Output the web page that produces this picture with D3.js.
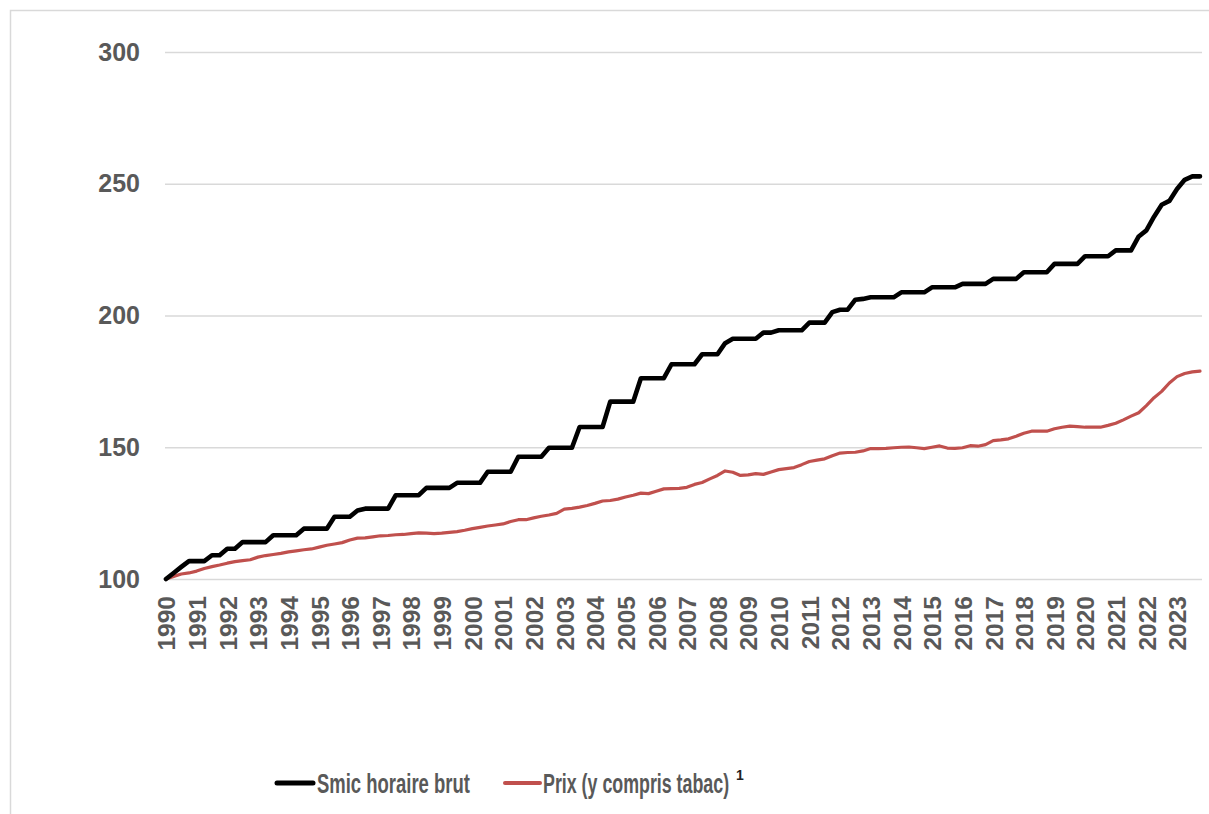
<!DOCTYPE html>
<html>
<head>
<meta charset="utf-8">
<script src="https://cdn.jsdelivr.net/npm/d3@7"></script>
<style>
  html, body { margin: 0; padding: 0; background: #ffffff; }
  svg { display: block; font-family: "Liberation Sans", Arial, sans-serif; }
</style>
</head>
<body>
<svg id="chart" width="1209" height="814"></svg>
<script>
// ---- DATA ----
const years = [1990,1991,1992,1993,1994,1995,1996,1997,1998,1999,2000,2001,2002,2003,2004,2005,2006,2007,2008,2009,2010,2011,2012,2013,2014,2015,2016,2017,2018,2019,2020,2021,2022,2023];
const quarters = ["T1","T2","T3","T4"];
const categories = years.flatMap(yr => quarters.map(q => yr + q));

const smic = [
  100.0,102.3,104.6,106.8, 106.8,106.8,109.0,109.0, 111.5,111.5,114.0,114.0, 114.0,114.0,116.6,116.6,
  116.6,116.6,119.1,119.1, 119.1,119.1,123.6,123.6, 123.6,126.0,126.7,126.7, 126.7,126.7,131.8,131.8,
  131.8,131.8,134.6,134.6, 134.6,134.6,136.5,136.5, 136.5,136.5,140.7,140.7, 140.7,140.7,146.4,146.4,
  146.4,146.4,149.8,149.8, 149.8,149.8,157.7,157.7, 157.7,157.7,167.3,167.3, 167.3,167.3,176.2,176.2,
  176.2,176.2,181.5,181.5, 181.5,181.5,185.3,185.3, 185.3,189.5,191.2,191.2, 191.2,191.2,193.5,193.5,
  194.4,194.4,194.4,194.4, 197.3,197.3,197.3,201.3, 202.2,202.2,206.0,206.3, 206.9,206.9,206.9,206.9,
  208.8,208.8,208.8,208.8, 210.7,210.7,210.7,210.7, 212.0,212.0,212.0,212.0, 213.9,213.9,213.9,213.9,
  216.4,216.4,216.4,216.4, 219.6,219.6,219.6,219.6, 222.5,222.5,222.5,222.5, 224.7,224.7,224.7,230.0,
  232.3,237.5,242.0,243.5, 248.0,251.5,252.8,252.8
];

const prix = [
  100.0,101.0,101.9,102.3, 103.0,104.0,104.7,105.3, 106.0,106.6,107.0,107.3, 108.3,108.9,109.3,109.7,
  110.3,110.7,111.1,111.4, 112.1,112.8,113.3,113.8, 114.8,115.5,115.6,116.0, 116.4,116.5,116.8,116.9,
  117.2,117.5,117.4,117.2, 117.4,117.7,118.0,118.5, 119.1,119.6,120.1,120.5, 120.9,121.8,122.5,122.5,
  123.2,123.8,124.3,124.9, 126.5,126.8,127.3,127.9, 128.7,129.6,129.8,130.3, 131.1,131.8,132.6,132.4,
  133.3,134.2,134.3,134.4, 134.8,135.9,136.6,138.0, 139.3,141.0,140.5,139.3, 139.5,140.0,139.7,140.6,
  141.5,141.9,142.3,143.4, 144.6,145.1,145.6,146.8, 147.8,148.0,148.1,148.6, 149.5,149.5,149.6,149.8,
  150.0,150.1,149.8,149.5, 150.0,150.5,149.7,149.6, 149.8,150.6,150.4,151.0, 152.5,152.8,153.2,154.2,
  155.3,156.1,156.1,156.1, 157.0,157.6,158.0,157.8, 157.6,157.6,157.6,158.3, 159.1,160.4,161.8,163.1,
  165.8,168.8,171.2,174.4, 176.8,178.0,178.6,178.9
];

const yTicks = [100,150,200,250,300];
const seriesNames = ["Smic horaire brut", "Prix (y compris tabac)"];
const footnote = "1";

// ---- CHART ----
const svg = d3.select("#chart");
const textColor = "#595959";
const gridColor = "#d9d9d9";
const fontFam = "'Liberation Sans', Arial, sans-serif";

// outer frame
svg.append("rect")
  .attr("x", 10.5).attr("y", 10.5)
  .attr("width", 1220).attr("height", 830)
  .attr("fill", "none").attr("stroke", gridColor).attr("stroke-width", 1.5);

const left = 165, right = 1202;
const x = d3.scalePoint().domain(categories).range([166, 1200]);
const y = d3.scaleLinear().domain([100, 300]).range([579, 52]);

// y axis with gridlines
const yAxis = svg.append("g")
  .attr("transform", `translate(${left},0)`)
  .call(d3.axisLeft(y).tickValues(yTicks).tickSize(-(right - left)).tickPadding(25).tickFormat(d3.format("d")));
yAxis.select(".domain").remove();
yAxis.selectAll(".tick line").attr("stroke", gridColor).attr("stroke-width", 1.5);
yAxis.selectAll(".tick text")
  .attr("fill", textColor)
  .style("font-size", "25px").style("font-weight", "bold")
  .style("font-family", fontFam);

// x axis (year labels at first quarter)
const q1 = categories.filter(c => c.endsWith("T1"));
const xAxis = svg.append("g")
  .attr("transform", `translate(0,${y(100)})`)
  .call(d3.axisBottom(x).tickValues(q1).tickSize(0).tickFormat(c => c.slice(0, 4)));
xAxis.select(".domain").remove();
xAxis.selectAll(".tick text")
  .attr("fill", textColor)
  .attr("transform", "rotate(-90)")
  .attr("text-anchor", "end")
  .attr("x", -17)
  .attr("y", 0)
  .attr("dy", "0.36em")
  .style("font-size", "24.5px").style("font-weight", "bold")
  .style("font-family", fontFam);

// lines
const line = d3.line()
  .x((d, i) => x(categories[i]))
  .y(d => y(d));

svg.append("path")
  .datum(prix)
  .attr("fill", "none")
  .attr("stroke", "#c0504d")
  .attr("stroke-width", 3.2)
  .attr("stroke-linejoin", "round")
  .attr("stroke-linecap", "round")
  .attr("d", line);

svg.append("path")
  .datum(smic)
  .attr("fill", "none")
  .attr("stroke", "#000000")
  .attr("stroke-width", 4.6)
  .attr("stroke-linejoin", "round")
  .attr("stroke-linecap", "round")
  .attr("d", line);

// legend (condensed text via horizontal scaling)
const legY = 783;
const leg = svg.append("g");
leg.append("line").attr("x1", 277).attr("x2", 313).attr("y1", legY).attr("y2", legY)
  .attr("stroke", "#000").attr("stroke-width", 5).attr("stroke-linecap", "round");
leg.append("g").attr("transform", `translate(317,${legY}) scale(0.684,1)`)
  .append("text").attr("x", 0).attr("y", 0).attr("dy", "0.36em")
  .attr("fill", textColor).style("font-size", "27px").style("font-weight", "bold")
  .text(seriesNames[0]);
leg.append("line").attr("x1", 505).attr("x2", 540).attr("y1", legY).attr("y2", legY)
  .attr("stroke", "#c0504d").attr("stroke-width", 4).attr("stroke-linecap", "round");
leg.append("g").attr("transform", `translate(543,${legY}) scale(0.66,1)`)
  .append("text").attr("x", 0).attr("y", 0).attr("dy", "0.36em")
  .attr("fill", textColor).style("font-size", "27px").style("font-weight", "bold")
  .text(seriesNames[1]);
leg.append("text")
  .attr("x", 736).attr("y", legY - 3)
  .attr("fill", "#222").style("font-size", "14px").style("font-weight", "bold")
  .text(footnote);
</script>
</body>
</html>
